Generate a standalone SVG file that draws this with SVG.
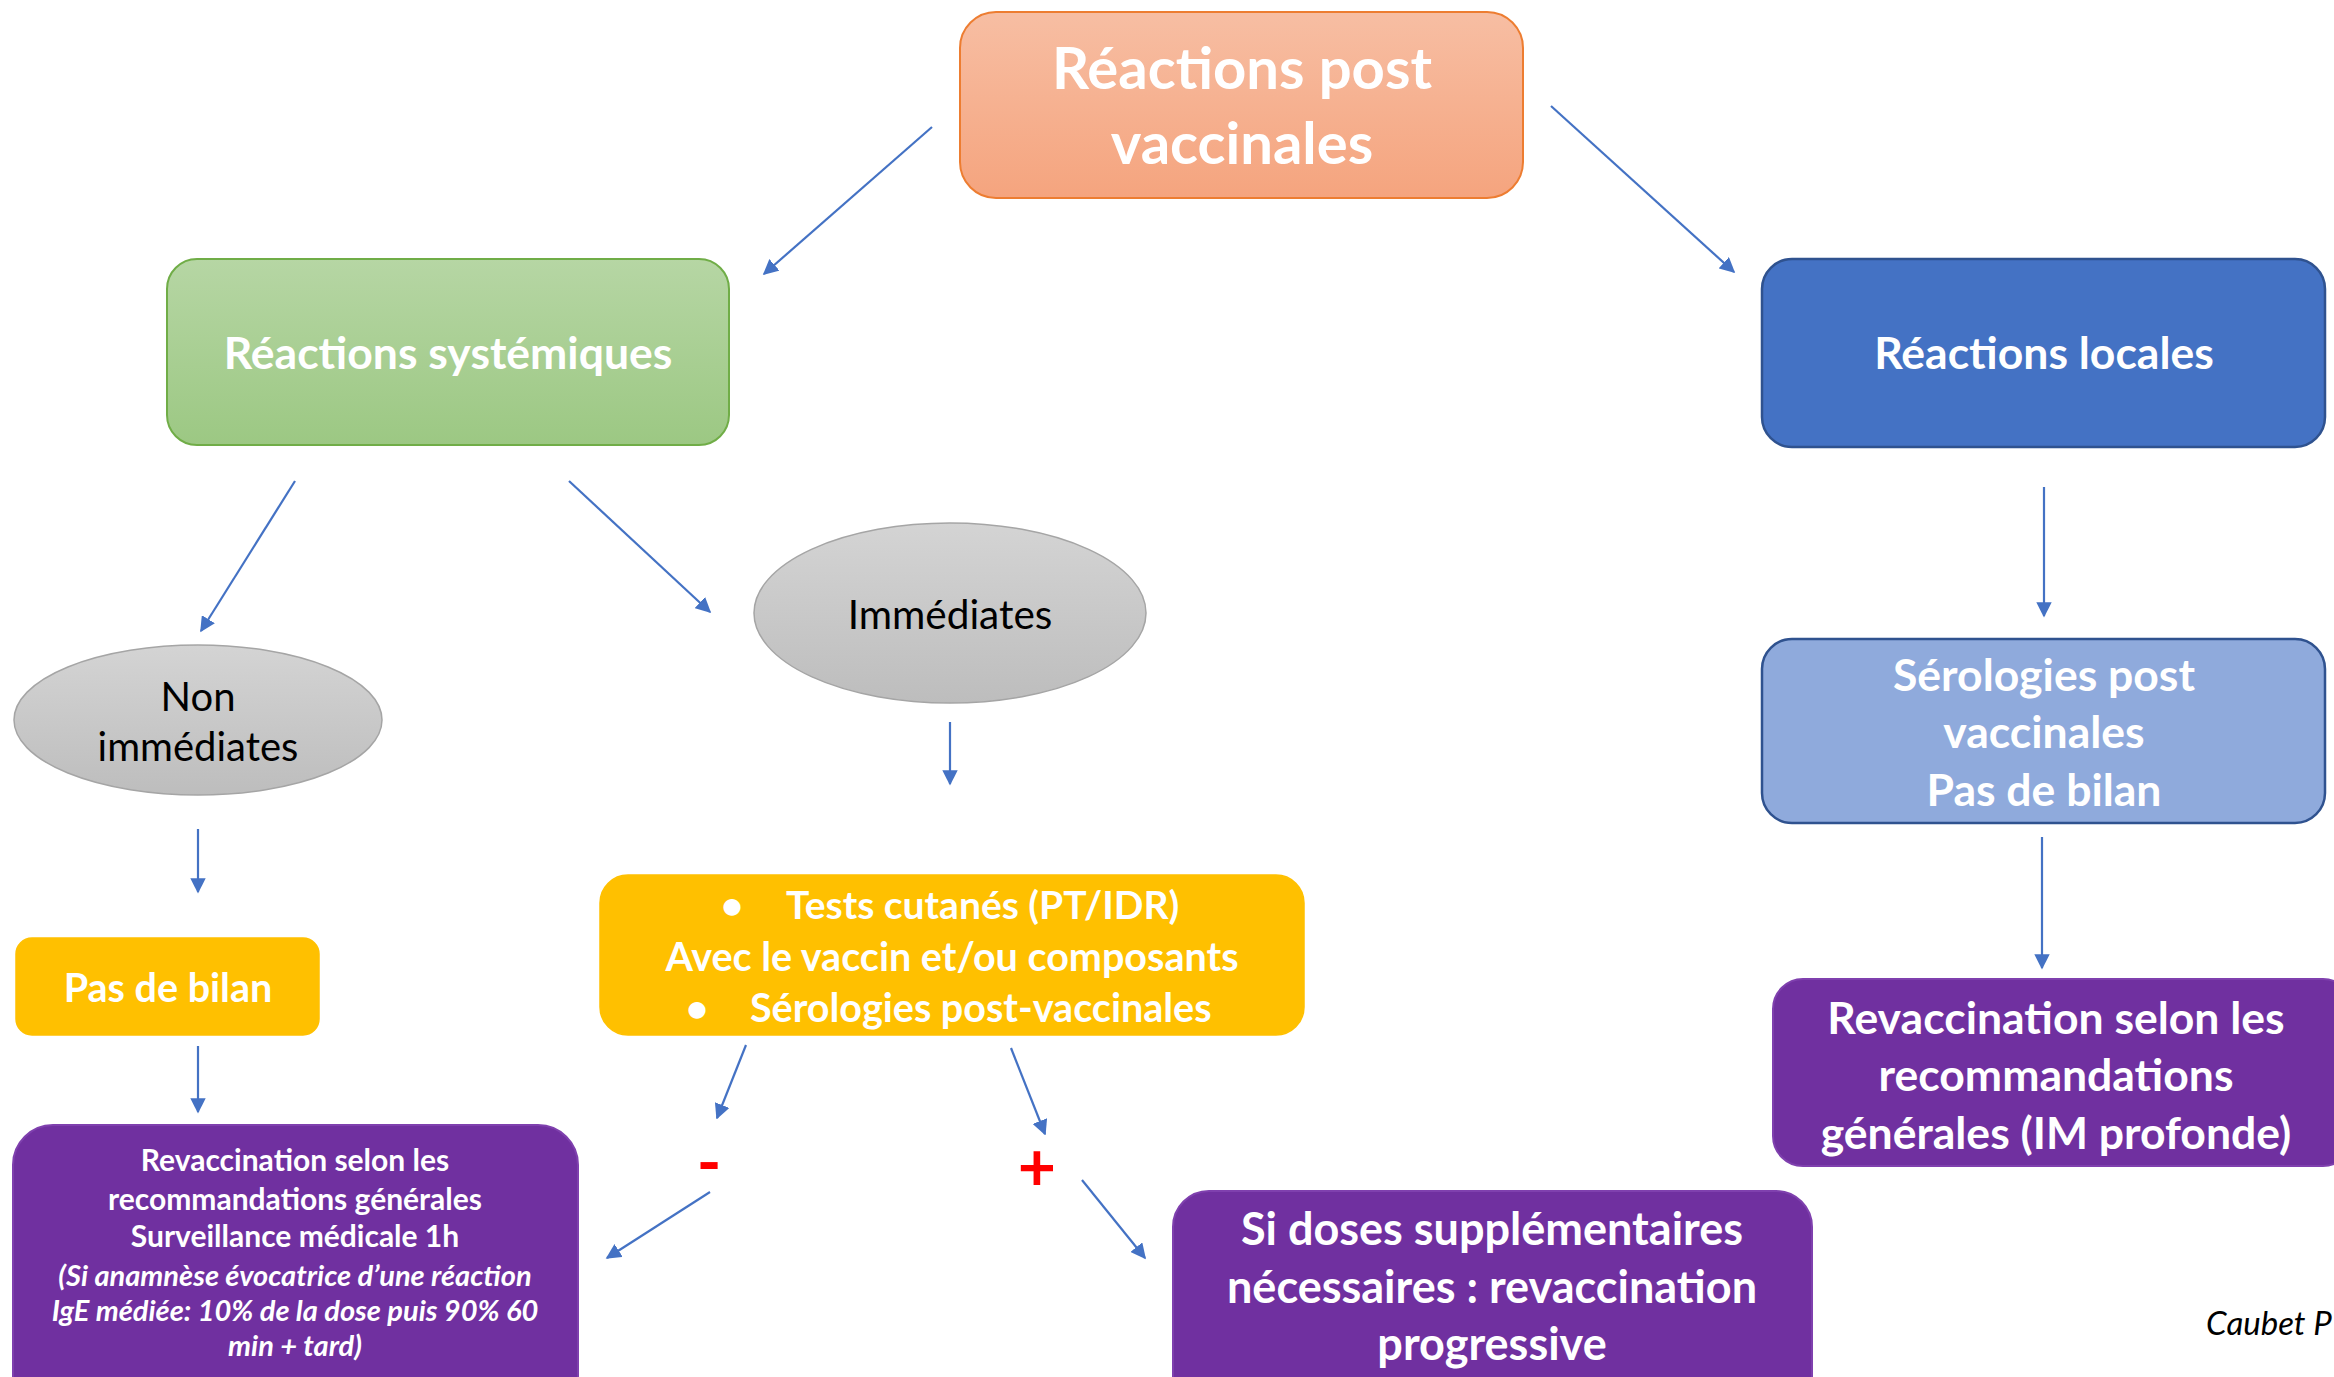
<svg xmlns="http://www.w3.org/2000/svg" width="2334" height="1377" viewBox="0 0 2334 1377">
<style>
text{font-family:Lato,"Open Sans","Liberation Sans",sans-serif;text-anchor:middle}
.w{fill:#ffffff;font-weight:bold}
.k{fill:#000000}
.conn line{stroke:#4472C4;stroke-width:2.2;fill:none;marker-end:url(#ah)}
.pur{fill:#7030A0;stroke:#7F40AE;stroke-width:2}
.yel{fill:#FFC000;stroke:#FFC000;stroke-width:1.5}
</style>
<defs>
<linearGradient id="gOr" x1="0" y1="0" x2="0" y2="1"><stop offset="0" stop-color="#F7BEA3"/><stop offset="1" stop-color="#F5A47E"/></linearGradient>
<linearGradient id="gGr" x1="0" y1="0" x2="0" y2="1"><stop offset="0" stop-color="#B6D6A4"/><stop offset="1" stop-color="#9CC883"/></linearGradient>
<linearGradient id="gGy" x1="0" y1="0" x2="0" y2="1"><stop offset="0" stop-color="#D4D4D4"/><stop offset="1" stop-color="#BDBDBD"/></linearGradient>
<marker id="ah" viewBox="0 0 10 10" refX="9" refY="5" markerWidth="7" markerHeight="7" markerUnits="strokeWidth" orient="auto"><path d="M0,0 L10,5 L0,10 z" fill="#4472C4"/></marker>
</defs>
<rect width="2334" height="1377" fill="#ffffff"/>

<g id="connectors" class="conn">
<line x1="932" y1="127" x2="764" y2="274"/>
<line x1="1551" y1="106" x2="1734" y2="272"/>
<line x1="295" y1="481" x2="201" y2="631"/>
<line x1="569" y1="481" x2="710" y2="612"/>
<line x1="198" y1="829" x2="198" y2="892"/>
<line x1="950" y1="722" x2="950" y2="784"/>
<line x1="2044" y1="487" x2="2044" y2="616"/>
<line x1="2042" y1="837" x2="2042" y2="968"/>
<line x1="198" y1="1046" x2="198" y2="1112"/>
<line x1="746" y1="1045" x2="717" y2="1118"/>
<line x1="1011" y1="1048" x2="1045" y2="1134"/>
<line x1="710" y1="1192" x2="607" y2="1258"/>
<line x1="1082" y1="1180" x2="1145" y2="1258"/>
</g>

<g id="n-top">
<rect x="960" y="12" width="563" height="186" rx="36" fill="url(#gOr)" stroke="#ED7D31" stroke-width="2"/>
<text class="w" x="1242" y="89" font-size="58">Réactions post</text>
<text class="w" x="1242" y="164" font-size="58">vaccinales</text>
</g>

<g id="n-systemiques">
<rect x="167" y="259" width="562" height="186" rx="30" fill="url(#gGr)" stroke="#70AD47" stroke-width="2"/>
<text class="w" x="448" y="369" font-size="44.5">Réactions systémiques</text>
</g>

<g id="n-locales">
<rect x="1762" y="259" width="563" height="188" rx="30" fill="#4472C4" stroke="#2F528F" stroke-width="2.5"/>
<text class="w" x="2044" y="369" font-size="44.5">Réactions locales</text>
</g>

<g id="n-nonimm">
<ellipse cx="198" cy="720" rx="184" ry="75" fill="url(#gGy)" stroke="#A5A5A5" stroke-width="1.5"/>
<text class="k" x="198" y="711" font-size="40">Non</text>
<text class="k" x="198" y="761" font-size="40">immédiates</text>
</g>

<g id="n-imm">
<ellipse cx="950" cy="613" rx="196" ry="90" fill="url(#gGy)" stroke="#A5A5A5" stroke-width="1.5"/>
<text class="k" x="950" y="629" font-size="40.5">Immédiates</text>
</g>

<g id="n-pasbilan">
<rect x="16" y="938" width="303" height="97" rx="16" class="yel"/>
<text class="w" x="168" y="1002" font-size="39.5">Pas de bilan</text>
</g>

<g id="n-tests">
<rect x="600" y="875" width="704" height="160" rx="28" class="yel"/>
<text class="w" x="732" y="919" font-size="39">•</text>
<text class="w" x="786" y="919" font-size="39" style="text-anchor:start">Tests cutanés (PT/IDR)</text>
<text class="w" x="952" y="971" font-size="39.5">Avec le vaccin et/ou composants</text>
<text class="w" x="697" y="1022" font-size="39">•</text>
<text class="w" x="750" y="1022" font-size="39.5" style="text-anchor:start">Sérologies post-vaccinales</text>
</g>

<g id="n-revac-left">
<rect x="13" y="1125" width="565" height="290" rx="40" class="pur"/>
<text class="w" x="295" y="1171" font-size="30">Revaccination selon les</text>
<text class="w" x="295" y="1210" font-size="30">recommandations générales</text>
<text class="w" x="295" y="1247" font-size="30">Surveillance médicale 1h</text>
<text class="w" x="295" y="1286" font-size="29" font-style="italic">(Si anamnèse évocatrice d’une réaction</text>
<text class="w" x="295" y="1321" font-size="29" font-style="italic">IgE médiée: 10% de la dose puis 90% 60</text>
<text class="w" x="295" y="1356" font-size="29" font-style="italic">min + tard)</text>
</g>

<g id="n-minus">
<text x="709" y="1186" font-size="66" font-weight="bold" fill="#FF0000">-</text>
</g>
<g id="n-plus">
<text x="1037" y="1191" font-size="66" font-weight="bold" fill="#FF0000">+</text>
</g>

<g id="n-sidoses">
<rect x="1173" y="1191" width="639" height="230" rx="36" class="pur"/>
<text class="w" x="1492" y="1245" font-size="45">Si doses supplémentaires</text>
<text class="w" x="1492" y="1303" font-size="45">nécessaires : revaccination</text>
<text class="w" x="1492" y="1360" font-size="45">progressive</text>
</g>

<g id="n-serologies">
<rect x="1762" y="639" width="563" height="184" rx="30" fill="#8FAADC" stroke="#2F528F" stroke-width="2.5"/>
<text class="w" x="2044" y="691" font-size="44.5">Sérologies post</text>
<text class="w" x="2044" y="748" font-size="44.5">vaccinales</text>
<text class="w" x="2044" y="806" font-size="44.5">Pas de bilan</text>
</g>

<g id="n-revac-right">
<rect x="1773" y="979" width="580" height="187" rx="30" class="pur"/>
<text class="w" x="2056" y="1034" font-size="44.5">Revaccination selon les</text>
<text class="w" x="2056" y="1091" font-size="44.5">recommandations</text>
<text class="w" x="2056" y="1149" font-size="44.5">générales (IM profonde)</text>
</g>

<g id="n-caubet">
<text class="k" x="2206" y="1335" font-size="33" font-style="italic" style="text-anchor:start">Caubet P</text>
</g>
</svg>
